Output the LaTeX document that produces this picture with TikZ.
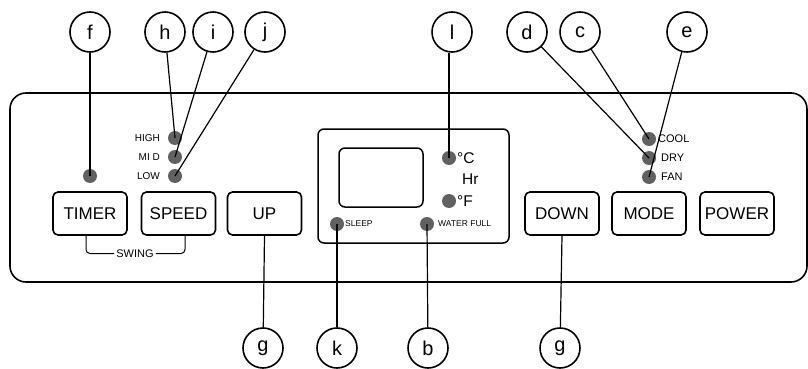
\documentclass[tikz,border=0pt]{standalone}
\usepackage{fontspec}
\setmainfont{Liberation Sans}
\begin{document}
\begin{tikzpicture}[x=1pt,y=-1pt,
  lbl/.style={circle,draw,line width=1.6pt,minimum size=40pt,inner sep=0pt,font=\fontsize{20}{20}\selectfont},
  btn/.style={draw,line width=1.6pt,rounded corners=5pt,minimum width=74pt,minimum height=43pt,inner sep=0pt,font=\fontsize{17}{17}\selectfont},
  dot/.style={circle,fill=black!62,minimum size=14pt,inner sep=0pt},
  conn/.style={line width=1.2pt},
  txt/.style={inner sep=0pt},
  small/.style={txt,font=\fontsize{10}{10}\selectfont},
  mode/.style={txt,font=\fontsize{11}{11}\selectfont},
  tiny/.style={txt,font=\fontsize{8.5}{8.5}\selectfont},
  unit/.style={txt,font=\fontsize{15.5}{15.5}\selectfont}]
\useasboundingbox (0,0) rectangle (808,369);
% panel
\draw[line width=1.6pt,rounded corners=16pt] (10,93) rectangle (807,282);
% display
\draw[line width=1.5pt,rounded corners=6pt] (318,129) rectangle (509,243);
\draw[line width=1.5pt,rounded corners=6pt] (339,148) rectangle (423,207);
% buttons
\node[btn] (timer) at (90,213.5) {TIMER};
\node[btn] (speed) at (178.5,213.5) {SPEED};
\node[btn] (up) at (264.5,213.5) {UP};
\node[btn] (down) at (562,213.5) {DOWN};
\node[btn] (mode) at (649,213.5) {MODE};
\node[btn] (power) at (737,213.5) {POWER};
% swing bracket
\node[small,font=\fontsize{11}{11}\selectfont] (swing) at (135,253.5) {SWING};
\coordinate (swl) at (86,253.5);
\coordinate (swr) at (185,253.5);
\draw[line width=1pt,rounded corners=4pt] (timer.south -| swl) -- (swl) -- ([xshift=-2pt]swing.west);
\draw[line width=1pt,rounded corners=4pt] ([xshift=2pt]swing.east) -- (swr) -- (speed.south -| swr);
% dots
\node[dot] (dtimer) at (90,176) {};
\node[dot] (dhigh) at (175,138) {};
\node[dot] (dmid) at (175,157) {};
\node[dot] (dlow) at (175,176) {};
\node[dot] (dc) at (449,158) {};
\node[dot] (df) at (449,201) {};
\node[dot] (dsleep) at (337,224) {};
\node[dot] (dwater) at (427,224) {};
\node[dot] (dcool) at (649,139) {};
\node[dot] (ddry) at (649,158) {};
\node[dot] (dfan) at (649,177) {};
% texts
\node[small,anchor=east] (thigh) at (160,138) {HIGH};
\node[small,anchor=east] (tmid) at (160,157) {MI D};
\node[small,anchor=east] (tlow) at (160,176) {LOW};
\node[unit,anchor=west] (tc) at (457,158) {°C};
\node[unit,anchor=west] (thr) at (462,179) {Hr};
\node[unit,anchor=west] (tf) at (457,201) {°F};
\node[tiny,anchor=west] (tsleep) at (345,224) {SLEEP};
\node[tiny,anchor=west] (twater) at (438,224) {WATER FULL};
\node[mode,anchor=west] (tcool) at (658,139) {COOL};
\node[mode,anchor=west] (tdry) at (661,158) {DRY};
\node[mode,anchor=west] (tfan) at (661,177) {FAN};
% callouts
\node[lbl] (f) at (90,32) {f};
\node[lbl] (h) at (165,32) {h};
\node[lbl] (i) at (213,32) {i};
\node[lbl] (j) at (265,32) {j};
\node[lbl] (l) at (452,32) {l};
\node[lbl] (d) at (527,32) {d};
\node[lbl] (c) at (580,32) {c};
\node[lbl] (e) at (687,32) {e};
\node[lbl] (g1) at (263,348) {g};
\node[lbl] (k) at (337,348) {k};
\node[lbl] (b) at (428,348) {b};
\node[lbl] (g2) at (560,348) {g};
% connectors
\draw[conn] (f) -- (dtimer.center);
\draw[conn] (h) -- (dhigh.center);
\draw[conn] (i) -- (dmid.center);
\draw[conn] (j) -- (dlow.center);
\draw[conn] (l.south -| dc) -- (dc.center);
\draw[conn] (d) -- (ddry.center);
\draw[conn] (c) -- (dcool.center);
\draw[conn] (e) -- (dfan.center);
\draw[conn] (up.south) -- (g1);
\draw[conn] (dsleep.center) -- (k);
\draw[conn] (dwater.center) -- (b);
\draw[conn] (down.south) -- (g2);
\end{tikzpicture}
\end{document}
